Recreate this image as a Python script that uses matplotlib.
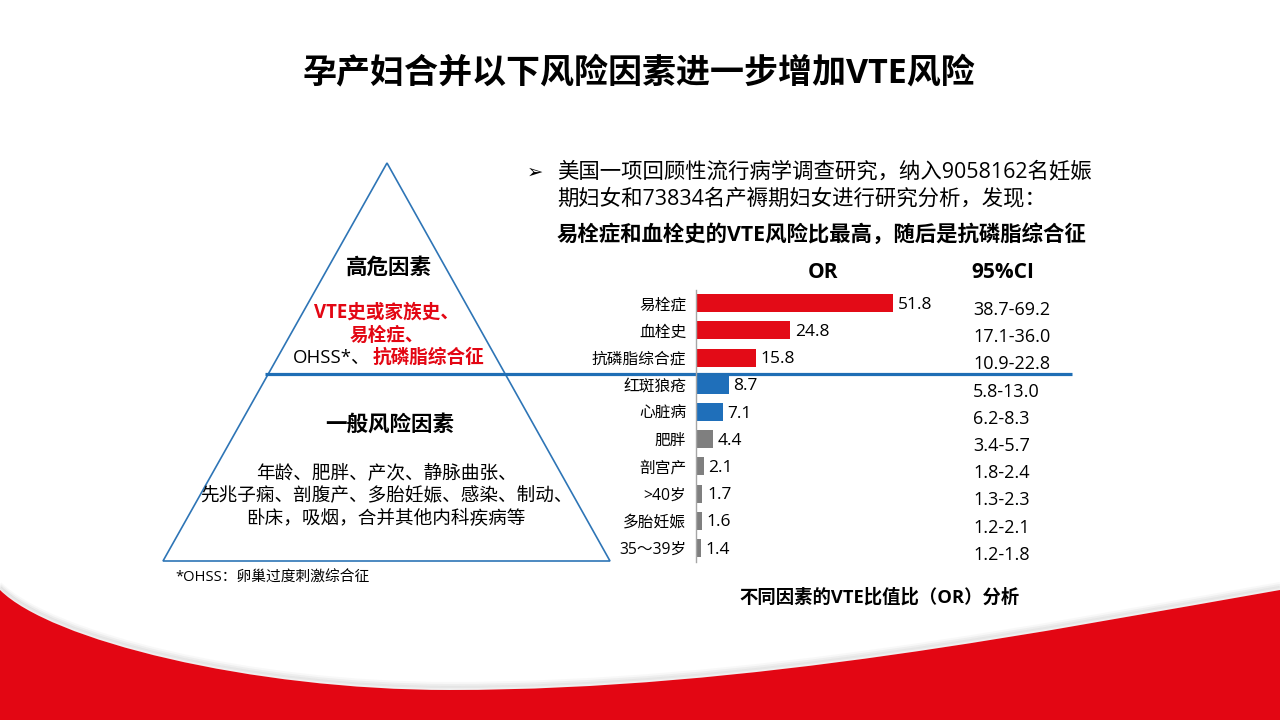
import matplotlib
matplotlib.use("Agg")
import matplotlib.pyplot as plt
from matplotlib.path import Path
from matplotlib.patches import PathPatch, Polygon
from matplotlib.transforms import Affine2D

plt.rcParams['font.family'] = ['Open Sans', 'Noto Sans CJK SC', 'DejaVu Sans']

# OR analysis data
factors = ['易栓症', '血栓史', '抗磷脂综合症', '红斑狼疮', '心脏病', '肥胖',
           '剖宫产', '>40岁', '多胎妊娠', '35～39岁']
or_values = [51.8, 24.8, 15.8, 8.7, 7.1, 4.4, 2.1, 1.7, 1.6, 1.4]
ci_labels = ['38.7-69.2', '17.1-36.0', '10.9-22.8', '5.8-13.0', '6.2-8.3',
             '3.4-5.7', '1.8-2.4', '1.3-2.3', '1.2-2.1', '1.2-1.8']
risk_group = ['high', 'high', 'high', 'mid', 'mid', 'low', 'low', 'low', 'low', 'low']

group_colors = {'high': '#E30B17', 'mid': '#1F6FBA', 'low': '#7F7F7F'}
RED = '#E30613'
BLUE = '#2E75B6'

fig = plt.figure(figsize=(12.8, 7.2), dpi=100)

# background canvas in pixel coordinates
bg = fig.add_axes([0, 0, 1, 1])
bg.set_xlim(0, 1280)
bg.set_ylim(720, 0)
bg.axis('off')

# red swoosh at the bottom
curve = [(0, 590), (50, 640), (250, 690), (450, 690),
         (750, 690), (1050, 630), (1280, 590)]
codes = [Path.MOVETO] + [Path.CURVE4] * 6
for d, a in [(6, 0.05), (4, 0.08), (2, 0.12)]:
    sh = PathPatch(Path(curve, codes), facecolor='none', edgecolor='#808080',
                   lw=3, alpha=a, transform=Affine2D().translate(0, -d) + bg.transData)
    bg.add_patch(sh)
swoosh = Path(curve + [(1280, 720), (0, 720), (0, 590)],
              codes + [Path.LINETO, Path.LINETO, Path.CLOSEPOLY])
bg.add_patch(PathPatch(swoosh, facecolor=RED, edgecolor='none'))

# title
bg.text(639, 73, '孕产妇合并以下风险因素进一步增加VTE风险', ha='center', va='center',
        fontsize=24.5, fontweight='bold', color='black')

# pyramid
tri = Polygon([(387, 163), (163, 561), (610, 561)], closed=True, fill=False,
              edgecolor=BLUE, lw=1.2)
bg.add_patch(tri)
bg.plot([265, 1072], [374, 374], color='#1F6EB5', lw=2.3, solid_capstyle='butt')

bg.text(389, 268, '高危因素', ha='center', va='center', fontsize=15.5, fontweight='bold')
bg.text(386, 313, 'VTE史或家族史、', ha='center', va='center', fontsize=13.4,
        fontweight='bold', color=RED)
bg.text(387, 336, '易栓症、', ha='center', va='center', fontsize=13.4,
        fontweight='bold', color=RED)
bg.text(371, 358, 'OHSS*、', ha='right', va='center', fontsize=13.4, color='black')
bg.text(373, 358, '抗磷脂综合征', ha='left', va='center', fontsize=13.4,
        fontweight='bold', color=RED)

bg.text(390, 425, '一般风险因素', ha='center', va='center', fontsize=15.5, fontweight='bold')
general = ['年龄、肥胖、产次、静脉曲张、',
           '先兆子痫、剖腹产、多胎妊娠、感染、制动、',
           '卧床，吸烟，合并其他内科疾病等']
for i, line in enumerate(general):
    bg.text(386, 473 + i * 22.5, line, ha='center', va='center', fontsize=13.4)

bg.text(175, 578, '*OHSS：卵巢过度刺激综合征', ha='left', va='center', fontsize=10.6)

# study description
bg.text(535, 172, '➢', ha='center', va='center', fontsize=14, family='DejaVu Sans')
bg.text(557, 172, '美国一项回顾性流行病学调查研究，纳入9058162名妊娠', ha='left',
        va='center', fontsize=15.4)
bg.text(557, 200, '期妇女和73834名产褥期妇女进行研究分析，发现：', ha='left',
        va='center', fontsize=15.4)
bg.text(557, 235, '易栓症和血栓史的VTE风险比最高，随后是抗磷脂综合征', ha='left',
        va='center', fontsize=15.4, fontweight='bold')
bg.text(823, 272, 'OR', ha='center', va='center', fontsize=15, fontweight='bold')
bg.text(1003, 272, '95%CI', ha='center', va='center', fontsize=15, fontweight='bold')

bg.text(880, 597, '不同因素的VTE比值比（OR）分析', ha='center', va='center',
        fontsize=13.2, fontweight='bold')

# bar chart
ax = fig.add_axes([696 / 1280, 1 - 561.6 / 720, 380 / 1280, 272 / 720])
ax.set_facecolor('none')
ypos = list(range(len(factors)))
ax.barh(ypos, or_values, height=0.66,
        color=[group_colors[g] for g in risk_group])
ax.set_xlim(0, 100)
ax.set_ylim(len(factors) - 0.5, -0.5)
ax.set_yticks(ypos)
ax.set_yticklabels(factors, fontsize=11.3)
ax.tick_params(axis='y', length=0, pad=7)
ax.set_xticks([])
for s in ['top', 'right', 'bottom']:
    ax.spines[s].set_visible(False)
ax.spines['left'].set_color('#A6A6A6')
ax.spines['left'].set_linewidth(1)

for y, v, ci in zip(ypos, or_values, ci_labels):
    ax.text(v + 1.2, y + 0.06, f'{v:.1f}', ha='left', va='center', fontsize=12.5)
    ax.text(0.729, y + 0.25, ci, ha='left', va='center', fontsize=13,
            transform=ax.get_yaxis_transform())

fig.savefig('out.png', dpi=100)
